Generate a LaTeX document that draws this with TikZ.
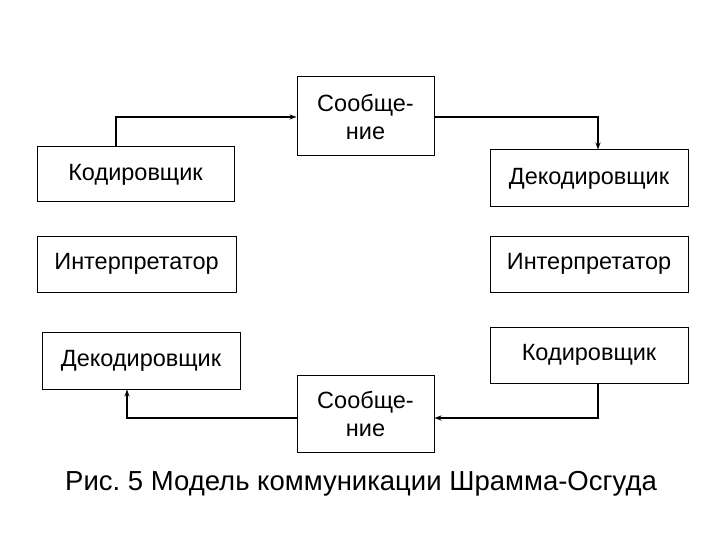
\documentclass[tikz,border=0pt]{standalone}
\usepackage{fontspec}
\setmainfont{Liberation Sans}
\usetikzlibrary{arrows.meta}
\frenchspacing
\begin{document}
\begin{tikzpicture}[x=1pt,y=-1pt,
  box/.style={draw,line width=1pt,inner sep=0pt,font=\fontsize{23.5}{28}\selectfont,align=center},
  conn/.style={line width=1.3pt,-{Stealth[length=7pt,width=5pt]}}]
\useasboundingbox (0,0) rectangle (720,540);
\node[box,minimum width=137pt,minimum height=79pt] (m1) at (365.5,116.5) {Сообще-\\ние};
\node[box,minimum width=197pt,minimum height=55pt] (k1) at (135.5,174.5) {Кодировщик};
\node[box,minimum width=198pt,minimum height=57pt] (d1) at (589,178.5) {Декодировщик};
\node[box,minimum width=199pt,minimum height=56pt] (i1) at (136.5,264) {Интерпретатор};
\node[box,minimum width=198pt,minimum height=56pt] (i2) at (589,264) {Интерпретатор};
\node[box,minimum width=198pt,minimum height=57pt] (d2) at (141,360.5) {Декодировщик};
\node[box,minimum width=198pt,minimum height=56pt] (k2) at (589,355) {Кодировщик};
\node[box,minimum width=137pt,minimum height=77pt] (m2) at (365.5,413.5) {Сообще-\\ние};
\node[font=\fontsize{27.5}{32}\selectfont] (cap) at (361,484) {Рис. 5 Модель коммуникации Шрамма-Осгуда};
\coordinate (a1) at (116,117);
\coordinate (a2) at (598,117);
\coordinate (a3) at (598,418);
\coordinate (a4) at (127,418);
\draw[conn] (k1.north -| a1) -- (a1) -- (a1 -| m1.west);
\draw[conn] (m1.east |- a2) -- (a2) -- (a2 |- d1.north);
\draw[conn] (k2.south -| a3) -- (a3) -- (a3 -| m2.east);
\draw[conn] (m2.west |- a4) -- (a4) -- (a4 |- d2.south);
\end{tikzpicture}
\end{document}
